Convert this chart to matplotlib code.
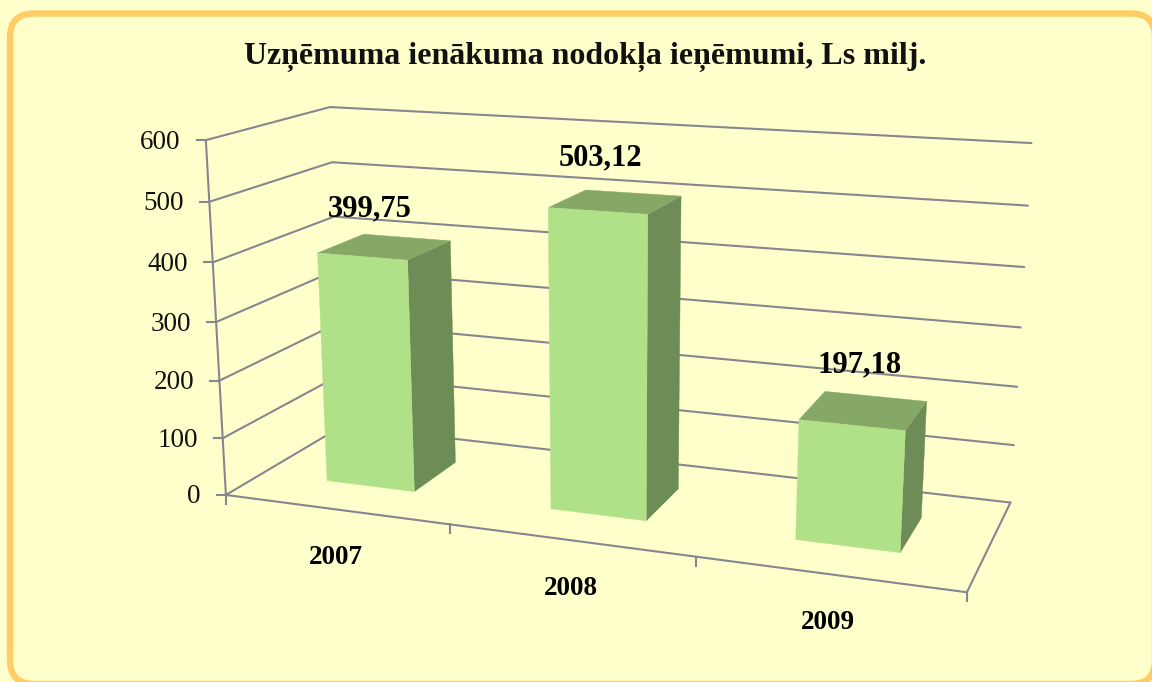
import matplotlib
matplotlib.use('Agg')
import matplotlib.pyplot as plt
import numpy as np
from matplotlib.patches import FancyBboxPatch

plt.rcParams['font.family'] = ['Liberation Serif', 'DejaVu Serif']

# Data
title = 'Uzņēmuma ienākuma nodokļa ieņēmumi, Ls milj.'
years = ['2007', '2008', '2009']
values = [399.75, 503.12, 197.18]
value_labels = ['399,75', '503,12', '197,18']
y_ticks = [0, 100, 200, 300, 400, 500, 600]

# Colours
bg_color = '#FFFFCC'
border_color = '#FFCC66'
grid_color = '#868690'
front_color = '#B0E088'
top_color = '#85A866'
side_color = '#6E8C55'

# Camera: the frame of the 3D chart (category, depth, value) -> picture pixels
frame_world = np.array([
    [0, 0, 0], [1, 0, 0], [2, 0, 0], [3, 0, 0], [3, 1, 0],
    [0, 0, 600], [0, 0, 500], [0, 0, 400], [0, 0, 100],
    [0, 1, 600], [0, 1, 500], [0, 1, 400],
    [3, 1, 600], [3, 1, 500], [3, 1, 200], [3, 1, 100],
], dtype=float)
frame_pixels = np.array([
    [226, 495], [450, 525], [696, 557], [967, 592], [1010, 502],
    [206, 140], [209, 202], [213, 262], [223, 438],
    [330, 107], [332, 162], [334, 217],
    [1031, 143], [1028, 206], [1018, 387], [1014, 445],
], dtype=float)


def fit_camera(world, pixels):
    # direct linear transform, z scaled so the system is well conditioned
    rows = []
    for (x, y, z), (u, v) in zip(world, pixels):
        p = [x, y, z / 600, 1]
        rows.append(p + [0, 0, 0, 0] + [-u * c for c in p])
        rows.append([0, 0, 0, 0] + p + [-v * c for c in p])
    return np.linalg.svd(np.array(rows))[2][-1].reshape(3, 4)


camera = fit_camera(frame_world, frame_pixels)


def project(x, y, z):
    u, v, w = camera @ np.array([x, y, z / 600, 1.0])
    return u / w, v / w


fig = plt.figure(figsize=(11.52, 6.82), dpi=100, facecolor=bg_color)
ax = fig.add_axes([0, 0, 1, 1])
ax.set_xlim(0, 1152)
ax.set_ylim(682, 0)
ax.axis('off')

# Rounded frame
ax.add_patch(FancyBboxPatch((10, 13.5), 1145, 670.5, boxstyle='round,pad=0,rounding_size=24',
                            facecolor=bg_color, edgecolor=border_color, linewidth=4.6, zorder=1))

line_w = 1.5


def line3d(points, **kw):
    xy = np.array([project(*p) for p in points])
    ax.plot(xy[:, 0], xy[:, 1], color=grid_color, linewidth=line_w, solid_capstyle='round',
            solid_joinstyle='miter', zorder=2, **kw)


# Grid lines on the side and back walls
for t in y_ticks:
    line3d([(0, 0, t), (0, 1, t), (3, 1, t)])

# Axes
line3d([(0, 0, 0), (0, 0, 600)])
line3d([(0, 0, 0), (3, 0, 0), (3, 1, 0)])

# Y ticks and labels
for t in y_ticks:
    u, v = project(0, 0, t)
    ax.plot([u - 9, u], [v, v], color=grid_color, linewidth=line_w, zorder=2)
    ax.text(u - 25, v + 2, str(t), ha='right', va='center', fontsize=19.5, color='#111111', zorder=5)

# X ticks
for i in range(4):
    u, v = project(i, 0, 0)
    ax.plot([u, u], [v, v + 9], color=grid_color, linewidth=line_w, zorder=2)

# Bars
bar_x0 = 0.3
bar_x1 = 0.7
bar_y0 = 0.3
bar_y1 = 0.7
for i, val in enumerate(values):
    x0, x1 = i + bar_x0, i + bar_x1
    top = [project(x0, bar_y0, val), project(x1, bar_y0, val), project(x1, bar_y1, val), project(x0, bar_y1, val)]
    side = [project(x1, bar_y0, 0), project(x1, bar_y1, 0), project(x1, bar_y1, val), project(x1, bar_y0, val)]
    front = [project(x0, bar_y0, 0), project(x1, bar_y0, 0), project(x1, bar_y0, val), project(x0, bar_y0, val)]
    for face, color in [(side, side_color), (top, top_color), (front, front_color)]:
        ax.fill(*zip(*face), facecolor=color, edgecolor=color, linewidth=0.3, zorder=3)

# Value labels above the bars
label_dx = [-15, -15, -4]
label_dy = [-38, -44, -45]
for i, val in enumerate(values):
    u, v = project(i + 0.5, 0.5, val)
    ax.text(u + label_dx[i], v + label_dy[i], value_labels[i], ha='center', va='center',
            fontsize=22, fontweight='bold', color='black', zorder=6)

# Category labels
for i, year in enumerate(years):
    u, v = project(i + 0.5, 0, 0)
    ax.text(u, v + 48, year, ha='center', va='center', fontsize=19.5, fontweight='bold',
            color='black', zorder=5)

ax.text(585, 57, title, ha='center', va='center', fontsize=23, fontweight='bold', color='#111111', zorder=5)

plt.savefig('out.png', dpi=100, facecolor=bg_color)
